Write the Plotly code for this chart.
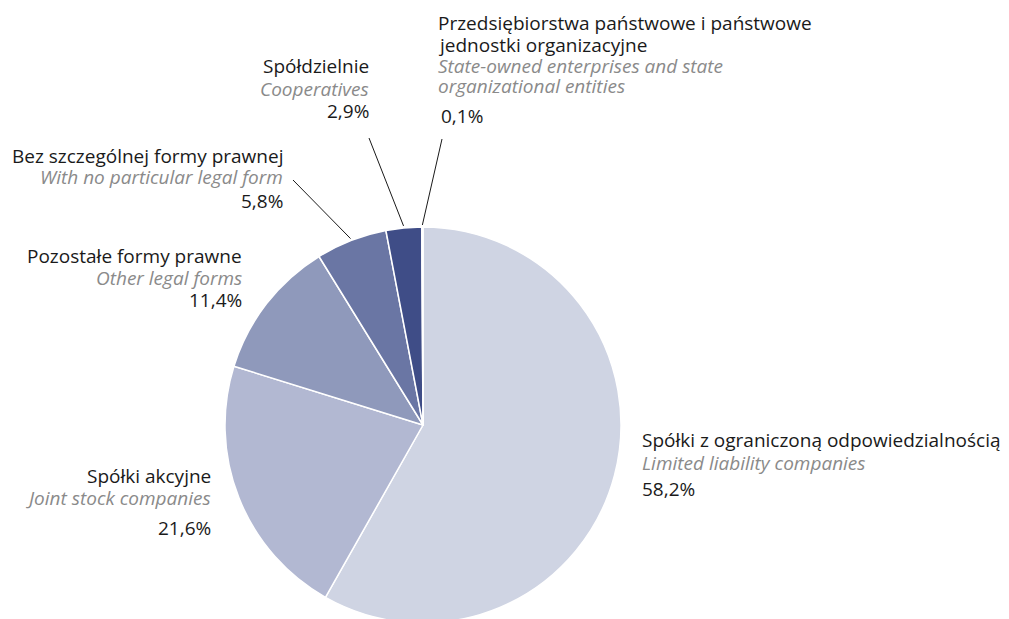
import math
import plotly.graph_objects as go

W, H = 1009, 619
OFF = 8  # page body margin offset in the browser

labels_pl = [
    ["Spółki z ograniczoną odpowiedzialnością"],
    ["Spółki akcyjne"],
    ["Pozostałe formy prawne"],
    ["Bez szczególnej formy prawnej"],
    ["Spółdzielnie"],
    ["Przedsiębiorstwa państwowe i państwowe", "jednostki organizacyjne"],
]
labels_en = [
    ["Limited liability companies"],
    ["Joint stock companies"],
    ["Other legal forms"],
    ["With no particular legal form"],
    ["Cooperatives"],
    ["State-owned enterprises and state", "organizational entities"],
]
shares = [58.2, 21.6, 11.4, 5.8, 2.9, 0.1]
pct_text = ["58,2%", "21,6%", "11,4%", "5,8%", "2,9%", "0,1%"]
colors = ["#cfd4e3", "#b2b8d2", "#8f99bb", "#6a76a4", "#3f4d87", "#27336c"]

# pie geometry (screen pixels)
CX, CY, R = 423, 425, 198
FONT = "Open Sans"
FS = 19
BLACK = "#1a1a1a"
GREY = "#8a8a8a"


def px(x):
    return (x - OFF) / W


def py(y):
    return 1 - (y - OFF) / H


fig = go.Figure(go.Pie(
    values=shares,
    labels=[" ".join(l) for l in labels_pl],
    sort=False,
    direction="clockwise",
    rotation=0,
    marker=dict(colors=colors, line=dict(color="white", width=1.5)),
    textinfo="none",
    hoverinfo="label+percent",
    showlegend=False,
    domain=dict(x=[px(CX - R), px(CX + R)], y=[py(CY + R), py(CY - R)]),
))

# label layout: x, anchor, line centres for (polish lines + english lines), pct x, pct centre
label_layout = {
    0: (641, "left", [439.5, 462.5], 641, 488.5),
    1: (212, "right", [476, 498], 212, 528),
    2: (243, "right", [256, 277.5], 243, 299.5),
    3: (284, "right", [156, 176.5], 284, 201),
    4: (370, "right", [66, 89], 370, 111.5),
    5: (437, "left", [22.5, 44.5, 66, 86], 440, 116),
}

annotations = []


def add_text(x, y, anchor, text, color, italic=False):
    t = f"<i>{text}</i>" if italic else text
    annotations.append(dict(
        x=px(x), y=py(y), xref="paper", yref="paper", xanchor=anchor, yanchor="middle",
        text=t, showarrow=False, align=anchor, borderpad=0,
        font=dict(family=FONT, size=FS, color=color),
    ))


for i in range(len(shares)):
    x, a, ys, pxx, pyy = label_layout[i]
    lines = [(t, BLACK, False) for t in labels_pl[i]] + [(t, GREY, True) for t in labels_en[i]]
    for (t, c, it), y in zip(lines, ys):
        add_text(x, y, a, t, c, it)
    add_text(pxx, pyy, a, pct_text[i], BLACK)

# leader lines from label anchor to the middle of the slice edge
leader_start = {3: (293, 180), 4: (369, 138), 5: (442, 139)}
total = sum(shares)
shapes = []
cum = 0.0
for i, v in enumerate(shares):
    mid = (cum + v / 2) / total * 2 * math.pi
    cum += v
    if i in leader_start:
        ex = CX + (R + 2) * math.sin(mid)
        ey = CY - (R + 2) * math.cos(mid)
        sx, sy = leader_start[i]
        shapes.append(dict(type="line", xref="paper", yref="paper",
                           x0=px(sx), y0=py(sy), x1=px(ex), y1=py(ey),
                           line=dict(color="#1a1a1a", width=1)))

fig.update_layout(
    width=W, height=H,
    margin=dict(l=0, r=0, t=0, b=0),
    paper_bgcolor="white",
    plot_bgcolor="white",
    annotations=annotations,
    shapes=shapes,
    font=dict(family=FONT),
)

fig.write_html("out.html")
